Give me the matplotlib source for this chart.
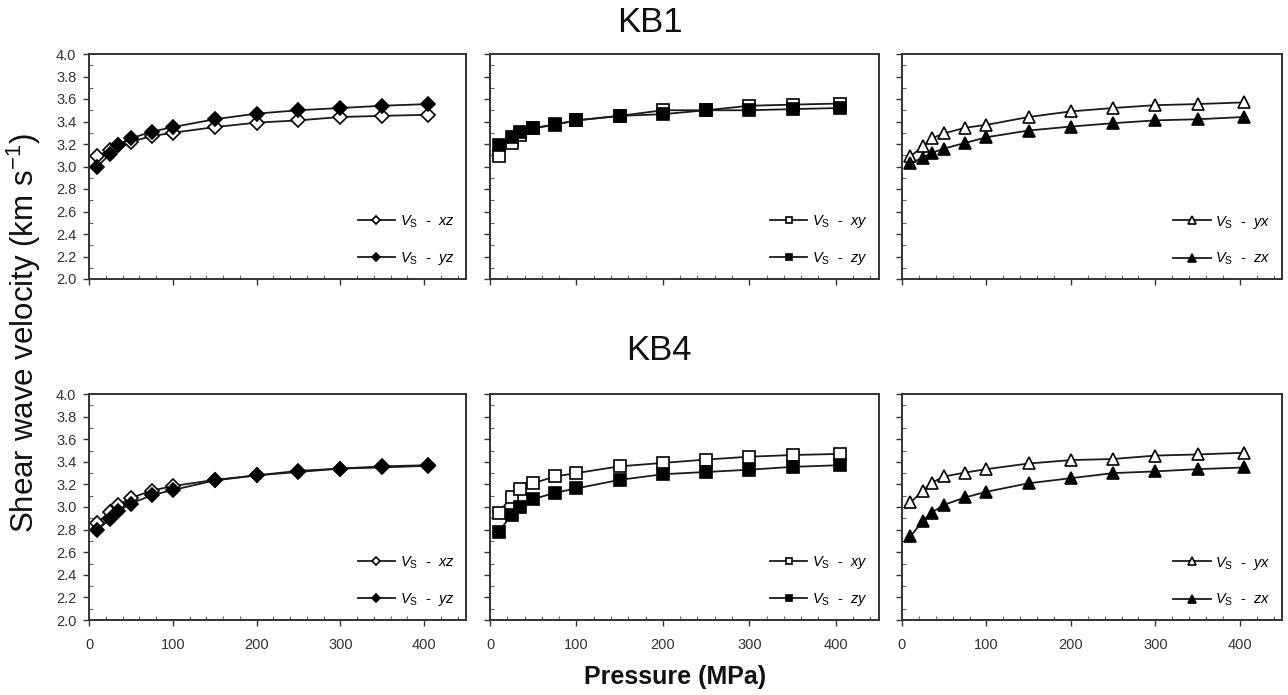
import matplotlib
matplotlib.use("Agg")
import matplotlib.pyplot as plt
from matplotlib.ticker import MultipleLocator

plt.rcParams['font.family'] = ['Liberation Sans', 'DejaVu Sans']
plt.rcParams['mathtext.fontset'] = 'custom'
plt.rcParams['mathtext.rm'] = 'Liberation Sans'
plt.rcParams['mathtext.it'] = 'Liberation Sans:italic'

pressure = [10, 25, 35, 50, 75, 100, 150, 200, 250, 300, 350, 405]

# KB1
kb1_xz = [3.09, 3.15, 3.19, 3.22, 3.27, 3.30, 3.35, 3.39, 3.41, 3.44, 3.45, 3.46]
kb1_yz = [3.00, 3.11, 3.19, 3.25, 3.31, 3.35, 3.42, 3.47, 3.50, 3.52, 3.54, 3.555]
kb1_xy = [3.09, 3.21, 3.28, 3.34, 3.37, 3.41, 3.45, 3.50, 3.50, 3.54, 3.55, 3.56]
kb1_zy = [3.19, 3.26, 3.31, 3.34, 3.375, 3.41, 3.45, 3.465, 3.50, 3.50, 3.51, 3.52]
kb1_yx = [3.09, 3.18, 3.25, 3.295, 3.345, 3.37, 3.44, 3.49, 3.52, 3.545, 3.555, 3.57]
kb1_zx = [3.03, 3.08, 3.12, 3.16, 3.21, 3.26, 3.32, 3.355, 3.385, 3.41, 3.42, 3.44]

# KB4
kb4_xz = [2.86, 2.96, 3.02, 3.08, 3.145, 3.185, 3.24, 3.28, 3.32, 3.34, 3.36, 3.37]
kb4_yz = [2.80, 2.89, 2.965, 3.03, 3.105, 3.15, 3.235, 3.28, 3.31, 3.34, 3.35, 3.365]
kb4_xy = [2.95, 3.09, 3.155, 3.21, 3.27, 3.30, 3.36, 3.39, 3.42, 3.445, 3.46, 3.47]
kb4_zy = [2.78, 2.93, 3.00, 3.07, 3.125, 3.165, 3.24, 3.29, 3.31, 3.33, 3.355, 3.37]
kb4_yx = [3.04, 3.145, 3.215, 3.27, 3.305, 3.335, 3.385, 3.415, 3.425, 3.455, 3.465, 3.48]
kb4_zx = [2.74, 2.88, 2.95, 3.02, 3.085, 3.135, 3.21, 3.255, 3.30, 3.315, 3.335, 3.35]

x_ticks = [0, 100, 200, 300, 400]
y_ticks = [2.0, 2.2, 2.4, 2.6, 2.8, 3.0, 3.2, 3.4, 3.6, 3.8, 4.0]

panels = [
    [(kb1_xz, kb1_yz, 'xz', 'yz', 'D'), (kb1_xy, kb1_zy, 'xy', 'zy', 's'), (kb1_yx, kb1_zx, 'yx', 'zx', '^')],
    [(kb4_xz, kb4_yz, 'xz', 'yz', 'D'), (kb4_xy, kb4_zy, 'xy', 'zy', 's'), (kb4_yx, kb4_zx, 'yx', 'zx', '^')],
]

W, H = 1288, 695
fig = plt.figure(figsize=(W / 100, H / 100), dpi=100)

col_px = [(89, 466), (490, 879), (902, 1282)]
row_px = [(54, 279), (394, 620)]
msize = {'D': 7.5, 's': 8, '^': 9}
lcol = '#1a1a1a'
ecol = '#333333'


def vlabel(comp):
    return r'$V_{\mathrm{S}}$  -  $' + comp + '$'


for r, row in enumerate(panels):
    for c, (open_v, fill_v, lab_o, lab_f, mk) in enumerate(row):
        x0, x1 = col_px[c]
        y0, y1 = row_px[r]
        ax = fig.add_axes([x0 / W, 1 - y1 / H, (x1 - x0) / W, (y1 - y0) / H])
        ax.plot(pressure, open_v, color=lcol, lw=1.3, marker=mk, ms=msize[mk],
                mfc='white', mec='black', mew=1.2, label=vlabel(lab_o))
        ax.plot(pressure, fill_v, color=lcol, lw=1.3, marker=mk, ms=msize[mk],
                mfc='black', mec='black', mew=1.2, label=vlabel(lab_f))
        ax.set_xlim(0, 450)
        ax.set_ylim(2.0, 4.0)
        ax.set_xticks(x_ticks)
        ax.set_yticks(y_ticks)
        ax.xaxis.set_minor_locator(MultipleLocator(20))
        ax.yaxis.set_minor_locator(MultipleLocator(0.1))
        ax.tick_params(which='major', direction='out', length=4, width=1, color=ecol,
                       labelsize=10.5, labelcolor='#333333')
        ax.tick_params(axis='x', which='major', pad=9)
        ax.tick_params(axis='y', which='major', pad=5)
        ax.tick_params(which='minor', direction='in', length=3, width=0.8, color='#666666')
        if c != 0:
            ax.set_yticklabels([])
        else:
            ax.set_yticklabels([f'{v:.1f}' for v in y_ticks])
        if r == 0:
            ax.set_xticklabels([])
        for s in ax.spines.values():
            s.set_linewidth(1.4)
            s.set_color(ecol)
        ax.legend(loc='lower right', frameon=False, fontsize=10.5,
                  handlelength=2.6, handletextpad=0.3, labelspacing=1.4,
                  markerscale=0.6, borderaxespad=0.4, numpoints=1)

fig.text(650 / W, 1 - 23 / H, 'KB1', fontsize=25, ha='center', va='center', color='#111111')
fig.text(659 / W, 1 - 351 / H, 'KB4', fontsize=25, ha='center', va='center', color='#111111')
fig.text(24 / W, 1 - 333 / H, r'Shear wave velocity (km s$^{\mathrm{-1}}$)', fontsize=22.5,
         rotation=90, ha='center', va='center', color='#111111')
fig.text(675 / W, 1 - 677 / H, 'Pressure (MPa)', fontsize=18, fontweight='bold',
         ha='center', va='center', color='#111111')

fig.savefig('out.png', dpi=100)
